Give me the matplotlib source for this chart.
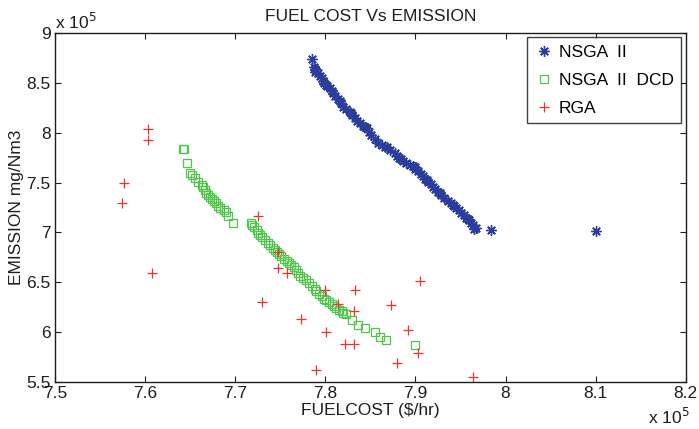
import matplotlib
matplotlib.use("Agg")
import matplotlib.pyplot as plt

plt.rcParams["font.family"] = ["Liberation Sans", "DejaVu Sans"]

# Values in units of 1e5
nsga_cost = [7.785, 7.787, 7.788, 7.790, 7.792, 7.794, 7.796, 7.797, 7.799, 7.802,
             7.805, 7.807, 7.809, 7.811, 7.814, 7.817, 7.820, 7.823, 7.827, 7.830,
             7.833, 7.835, 7.838, 7.842, 7.846, 7.848, 7.851, 7.855, 7.859, 7.863,
             7.868, 7.872, 7.877, 7.880, 7.882, 7.886, 7.890, 7.894, 7.897, 7.900,
             7.903, 7.906, 7.908, 7.911, 7.914, 7.917, 7.919, 7.922, 7.925, 7.928,
             7.932, 7.936, 7.940, 7.943, 7.945, 7.948, 7.951, 7.954, 7.956, 7.959,
             7.962, 7.964, 7.967, 7.965, 7.984, 8.100,
             7.789, 7.801, 7.816, 7.829, 7.844, 7.866, 7.884, 7.899, 7.913, 7.927,
             7.942, 7.958]
nsga_emis = [8.739, 8.660, 8.636, 8.615, 8.596, 8.570, 8.546, 8.520, 8.496, 8.470,
             8.446, 8.420, 8.396, 8.370, 8.336, 8.300, 8.262, 8.240, 8.212, 8.180,
             8.145, 8.120, 8.095, 8.070, 8.045, 8.010, 7.978, 7.940, 7.895, 7.875,
             7.855, 7.830, 7.795, 7.770, 7.744, 7.720, 7.694, 7.680, 7.667, 7.640,
             7.620, 7.590, 7.567, 7.540, 7.510, 7.485, 7.460, 7.435, 7.410, 7.380,
             7.344, 7.320, 7.294, 7.270, 7.244, 7.220, 7.194, 7.170, 7.144, 7.120,
             7.093, 7.070, 7.043, 7.035, 7.023, 7.013,
             8.610, 8.480, 8.315, 8.195, 8.060, 7.860, 7.732, 7.655, 7.525, 7.395,
             7.280, 7.132]

dcd_cost = [7.642, 7.643, 7.647, 7.650, 7.652, 7.655, 7.659, 7.663, 7.664, 7.666,
            7.668, 7.670, 7.672, 7.674, 7.677, 7.679, 7.681, 7.683, 7.687, 7.690,
            7.692, 7.698, 7.717, 7.719, 7.721, 7.724, 7.725, 7.727, 7.730, 7.733,
            7.736, 7.739, 7.742, 7.744, 7.746, 7.749, 7.751, 7.754, 7.757, 7.760,
            7.762, 7.765, 7.768, 7.770, 7.772, 7.775, 7.779, 7.782, 7.785, 7.788,
            7.790, 7.793, 7.796, 7.799, 7.801, 7.804, 7.807, 7.810, 7.812, 7.815,
            7.818, 7.820, 7.823, 7.830, 7.836, 7.844, 7.855, 7.861, 7.867, 7.899]
dcd_emis = [7.838, 7.832, 7.700, 7.594, 7.575, 7.550, 7.510, 7.477, 7.455, 7.427,
            7.400, 7.377, 7.355, 7.333, 7.315, 7.300, 7.270, 7.243, 7.220, 7.200,
            7.160, 7.093, 7.090, 7.070, 7.053, 7.020, 6.995, 6.976, 6.950, 6.926,
            6.893, 6.870, 6.843, 6.820, 6.800, 6.780, 6.760, 6.735, 6.710, 6.690,
            6.675, 6.650, 6.625, 6.590, 6.558, 6.540, 6.525, 6.490, 6.458, 6.430,
            6.408, 6.380, 6.358, 6.335, 6.318, 6.300, 6.285, 6.260, 6.241, 6.220,
            6.208, 6.195, 6.184, 6.117, 6.067, 6.037, 5.997, 5.947, 5.921, 5.874]

rga_cost = [7.603, 7.603, 7.577, 7.574, 7.608, 7.725, 7.748, 7.747, 7.758, 7.730,
            7.773, 7.800, 7.833, 7.814, 7.832, 7.801, 7.822, 7.832, 7.790, 7.873,
            7.905, 7.892, 7.903, 7.880, 7.964]
rga_emis = [8.038, 7.925, 7.500, 7.294, 6.592, 7.169, 6.800, 6.640, 6.592, 6.298,
            6.134, 6.425, 6.425, 6.278, 6.210, 6.004, 5.884, 5.884, 5.620, 6.271,
            6.515, 6.017, 5.790, 5.686, 5.553]

x_ticks = [7.5, 7.6, 7.7, 7.8, 7.9, 8.0, 8.1, 8.2]
y_ticks = [5.5, 6.0, 6.5, 7.0, 7.5, 8.0, 8.5, 9.0]

blue = "#2a3d9c"
green = "#4fc64a"
red = "#e8342c"
ink = "#1e1e1e"

fig = plt.figure(figsize=(6.99, 4.29), dpi=100)
ax = fig.add_axes([0.0787, 0.1096, 0.9023, 0.8134])

ax.plot(nsga_cost, nsga_emis, linestyle="none", marker=(8, 2, 0), ms=7.5,
        mew=1.0, color=blue, label="NSGA  II")
ax.plot(dcd_cost, dcd_emis, linestyle="none", marker="s", ms=5.2,
        mew=0.9, mfc="none", mec=green, label="NSGA  II  DCD")
ax.plot(rga_cost, rga_emis, linestyle="none", marker="+", ms=7,
        mew=0.9, color=red, label="RGA")

ax.set_xlim(7.5, 8.2)
ax.set_ylim(5.5, 9.0)
ax.set_xticks(x_ticks)
ax.set_yticks(y_ticks)
ax.set_xticklabels(["%g" % v for v in x_ticks])
ax.set_yticklabels(["%g" % v for v in y_ticks])
ax.tick_params(direction="in", length=4, width=0.8, top=True, right=True,
               labelsize=12.5, colors=ink, pad=3)
for s in ax.spines.values():
    s.set_linewidth(1.0)
    s.set_color(ink)

ax.set_title("FUEL COST Vs EMISSION", fontsize=12.5, color=ink, pad=9)
ax.set_xlabel(r"FUELCOST (\$/hr)", fontsize=12.5, color=ink, labelpad=1)
ax.set_ylabel("EMISSION mg/Nm3", fontsize=12.5, color=ink, labelpad=2)

fig.text(55 / 699, 1 - 29 / 429, r"x 10$^5$", fontsize=12.5, color=ink,
         ha="left", va="baseline")
fig.text(648 / 699, 1 - 424 / 429, r"x 10$^5$", fontsize=12.5, color=ink,
         ha="left", va="baseline")

leg = ax.legend(loc="upper right", fontsize=12.5, frameon=True, fancybox=False,
                edgecolor="#111111", handlelength=1.0, handletextpad=0.35,
                borderpad=0.45, labelspacing=0.72, borderaxespad=0.25)
leg.get_frame().set_linewidth(1.0)

fig.savefig("out.png", dpi=100)
